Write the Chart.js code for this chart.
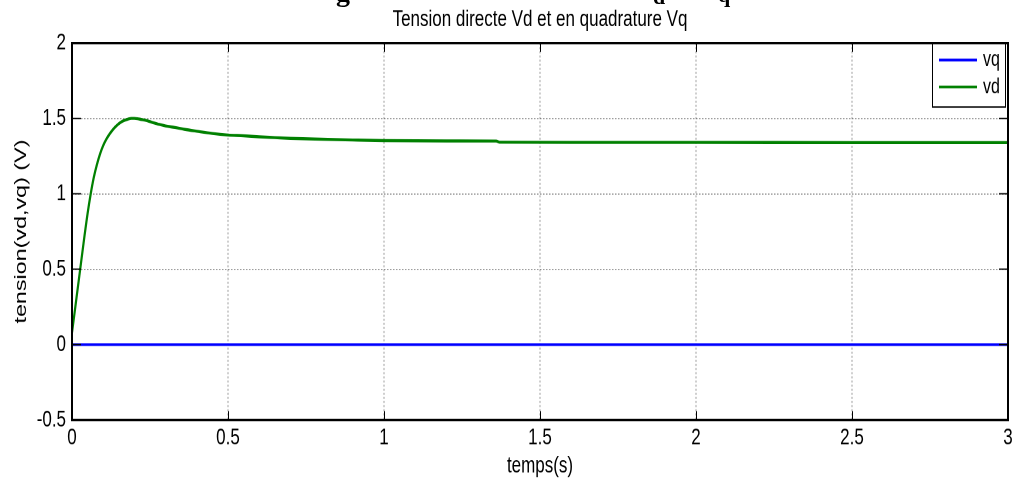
<!DOCTYPE html>
<html><head><meta charset="utf-8">
<script src="https://cdn.jsdelivr.net/npm/chart.js@4.4.0/dist/chart.umd.min.js"></script>
<style>
html,body{margin:0;padding:0;background:#fff;overflow:hidden;width:1019px;height:480px;}
#wrap{position:absolute;left:0;top:0;width:1019px;height:350px;transform:scaleY(1.3714286);transform-origin:0 0;}
#frag span{position:absolute;font-family:"Liberation Serif","Times New Roman",serif;font-weight:bold;line-height:1;color:#000;}
</style></head><body>
<div id="wrap"><canvas id="c" width="1019" height="350"></canvas></div>
<div id="frag">
<span style="left:336px;top:-22.5px;font-size:28px">g</span>
<span style="left:653px;top:-14.4px;font-size:22px">d</span>
<span style="left:718px;top:-16.4px;font-size:22px">q</span>
</div>
<script>
// ---- data ----
const tValues  = [0, 0.01, 0.02, 0.03, 0.04, 0.05, 0.06, 0.07, 0.08, 0.09, 0.10, 0.11, 0.12, 0.13, 0.14, 0.15, 0.16, 0.17, 0.18, 0.19, 0.20, 0.21, 0.22, 0.24, 0.26, 0.28, 0.30, 0.33, 0.36, 0.40, 0.45, 0.50, 0.55, 0.60, 0.65, 0.70, 0.80, 0.90, 1.00, 1.20, 1.36, 1.37, 1.60, 2.00, 2.50, 3.00];
const vdValues = [0.08, 0.24, 0.40, 0.56, 0.72, 0.87, 1.00, 1.11, 1.195, 1.265, 1.32, 1.362, 1.395, 1.423, 1.446, 1.465, 1.479, 1.489, 1.496, 1.50, 1.50, 1.498, 1.494, 1.485, 1.472, 1.46, 1.45, 1.44, 1.428, 1.415, 1.40, 1.39, 1.385, 1.378, 1.373, 1.368, 1.362, 1.357, 1.353, 1.351, 1.350, 1.342, 1.341, 1.341, 1.340, 1.340];
const vqTimes  = [0, 3];
const vqValues = [0, 0];
const seriesNames  = ['vq', 'vd'];
const seriesColors = ['#0000ff', '#008000'];
const xTickLabels = ['0', '0.5', '1', '1.5', '2', '2.5', '3'];
const yTickLabels = ['-0.5', '0', '0.5', '1', '1.5', '2'];
const titleText = 'Tension directe Vd et en quadrature Vq';
const xTitle = 'temps(s)';
const yTitle = 'tension(vd,vq) (V)';

const S = 480 / 350;       // vertical stretch of the figure
const FONT = '"Liberation Sans", Arial, sans-serif';

const framePlugin = {
  id: 'frame',
  afterDraw(chart) {
    const {ctx, chartArea: ca, scales} = chart;
    ctx.save();
    // legend box
    const lw = 74, lh = 64 / S;
    const lx = ca.right - 2 - lw, ly = ca.top;
    ctx.fillStyle = '#fff';
    ctx.fillRect(lx, ly, lw, lh);
    ctx.strokeStyle = '#000';
    ctx.lineWidth = 1;
    ctx.strokeRect(lx + 0.5, ly, lw - 1, lh);
    chart.data.datasets.forEach((ds, i) => {
      const yy = ly + (17 + i * 27) / S;
      ctx.strokeStyle = ds.borderColor;
      ctx.lineWidth = 2;
      ctx.beginPath();
      ctx.moveTo(lx + 7, yy); ctx.lineTo(lx + 45, yy); ctx.stroke();
      ctx.fillStyle = '#000';
      ctx.font = '16px ' + FONT;
      ctx.textBaseline = 'middle';
      ctx.textAlign = 'left';
      ctx.fillText(ds.label, lx + 51, yy);
    });
    // inward tick marks
    ctx.strokeStyle = '#000';
    ctx.lineWidth = 1;
    const tl = 9;
    scales.x.ticks.forEach(t => {
      const px = Math.round(scales.x.getPixelForValue(t.value)) + 0.5;
      ctx.beginPath();
      ctx.moveTo(px, ca.bottom); ctx.lineTo(px, ca.bottom - tl / S);
      ctx.moveTo(px, ca.top); ctx.lineTo(px, ca.top + tl / S);
      ctx.stroke();
    });
    scales.y.ticks.forEach(t => {
      const py = scales.y.getPixelForValue(t.value);
      ctx.beginPath();
      ctx.moveTo(ca.left, py); ctx.lineTo(ca.left + tl, py);
      ctx.moveTo(ca.right, py); ctx.lineTo(ca.right - tl, py);
      ctx.stroke();
    });
    // axes box
    ctx.lineWidth = 1.8;
    ctx.beginPath();
    ctx.moveTo(ca.left - 1, ca.top); ctx.lineTo(ca.right + 1, ca.top);
    ctx.moveTo(ca.left - 1, ca.bottom); ctx.lineTo(ca.right + 1, ca.bottom);
    ctx.stroke();
    ctx.lineWidth = 2;
    ctx.beginPath();
    ctx.moveTo(ca.left, ca.top); ctx.lineTo(ca.left, ca.bottom);
    ctx.moveTo(ca.right, ca.top); ctx.lineTo(ca.right, ca.bottom);
    ctx.stroke();
    ctx.restore();
  }
};

const gridOpts = { color: 'rgba(0,0,0,0.38)', lineWidth: 1, drawTicks: false };
const borderOpts = { display: false, dash: [1.5, 1.5] };

new Chart(document.getElementById('c'), {
  type: 'line',
  data: {
    datasets: [
      { label: seriesNames[0], data: vqTimes.map((t, i) => ({x: t, y: vqValues[i]})),
        borderColor: seriesColors[0], borderWidth: 2, pointRadius: 0, fill: false, tension: 0 },
      { label: seriesNames[1], data: tValues.map((t, i) => ({x: t, y: vdValues[i]})),
        borderColor: seriesColors[1], borderWidth: 2.2, pointRadius: 0, fill: false,
        cubicInterpolationMode: 'monotone' }
    ]
  },
  options: {
    responsive: false,
    animation: false,
    events: [],
    devicePixelRatio: 2,
    layout: { padding: { left: 0, right: 11, top: 0, bottom: 0 } },
    plugins: {
      legend: { display: false },
      tooltip: { enabled: false },
      title: {
        display: true, text: titleText, fullSize: false, color: '#000',
        font: { family: FONT, size: 17, weight: 'normal' },
        padding: { top: 4, bottom: 6.95 }
      }
    },
    scales: {
      x: {
        type: 'linear', min: 0, max: 3,
        ticks: { stepSize: 0.5, autoSkip: false, maxRotation: 0, color: '#000', padding: 3,
                 font: { family: FONT, size: 17 }, callback: (v, i) => xTickLabels[i] },
        grid: gridOpts, border: borderOpts,
        title: { display: true, text: xTitle, color: '#000', font: { family: FONT, size: 17 },
                 padding: { top: 0, bottom: 0 } },
        afterFit: s => { s.height = 350 - 420 / S; }
      },
      y: {
        type: 'linear', min: -0.5, max: 2,
        ticks: { stepSize: 0.5, autoSkip: false, color: '#000', padding: 6,
                 font: { family: FONT, size: 17 }, callback: (v, i) => yTickLabels[i] },
        grid: gridOpts, border: borderOpts,
        title: { display: true, text: yTitle, color: '#000', font: { family: FONT, size: 17 },
                 padding: { top: 11, bottom: 0 } },
        afterFit: s => { s.width = 72; }
      }
    }
  },
  plugins: [framePlugin]
});
</script>
</body></html>
